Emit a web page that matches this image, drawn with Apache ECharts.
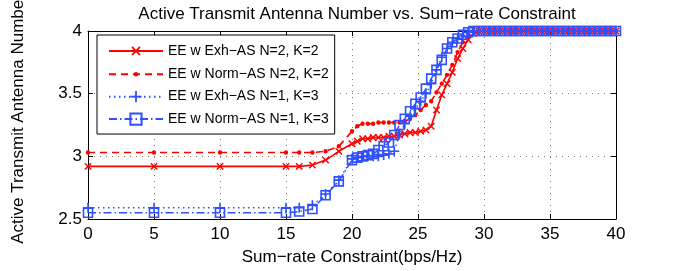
<!DOCTYPE html>
<html>
<head>
<meta charset="utf-8">
<script src="https://cdn.jsdelivr.net/npm/echarts@6/dist/echarts.min.js"></script>
<style>html,body{margin:0;padding:0;background:#fff;}#c{width:681px;height:271px;}</style>
</head>
<body>
<div id="c"></div>
<script>
// x values (bps/Hz)
var xVals = [0, 5, 10, 15, 16, 17, 18, 19,
  20, 20.4, 20.8, 21.2, 21.6, 22, 22.4, 22.8, 23.2, 23.6, 24, 24.4, 24.8, 25.2, 25.6, 26, 26.4, 26.8,
  27.2, 27.6, 28, 28.4, 28.8, 29.2, 29.6, 30, 30.4, 30.8, 31.2, 31.6, 32, 32.4, 32.8, 33.2, 33.6, 34,
  34.4, 34.8, 35.2, 35.6, 36, 36.4, 36.8, 37.2, 37.6, 38, 38.4, 38.8, 39.2, 39.6, 40];

var exhN2K2 = [2.92, 2.92, 2.92, 2.92, 2.92, 2.93, 2.97, 3.04,
  3.10, 3.12, 3.14, 3.14, 3.15, 3.15, 3.15, 3.16, 3.16, 3.17, 3.18, 3.19, 3.19, 3.20, 3.21, 3.24, 3.37, 3.49,
  3.58, 3.67, 3.78, 3.86, 3.93, 3.98, 4, 4, 4, 4, 4, 4, 4, 4, 4, 4, 4, 4,
  4, 4, 4, 4, 4, 4, 4, 4, 4, 4, 4, 4, 4, 4, 4];

var normN2K2 = [3.03, 3.03, 3.03, 3.03, 3.03, 3.03, 3.04, 3.08,
  3.20, 3.24, 3.26, 3.26, 3.26, 3.27, 3.27, 3.27, 3.27, 3.27, 3.28, 3.30, 3.33, 3.37, 3.41, 3.44, 3.51, 3.58,
  3.65, 3.73, 3.83, 3.91, 3.96, 4, 4, 4, 4, 4, 4, 4, 4, 4, 4, 4, 4, 4,
  4, 4, 4, 4, 4, 4, 4, 4, 4, 4, 4, 4, 4, 4, 4];

var exhN1K3 = [2.59, 2.59, 2.59, 2.59, 2.59, 2.61, 2.70, 2.81,
  2.98, 2.99, 3.00, 3.00, 3.00, 3.00, 3.01, 3.02, 3.04, 3.18, 3.26, 3.32, 3.38, 3.44, 3.50, 3.58, 3.69, 3.79,
  3.86, 3.91, 3.94, 3.96, 3.99, 4, 4, 4, 4, 4, 4, 4, 4, 4, 4, 4, 4, 4,
  4, 4, 4, 4, 4, 4, 4, 4, 4, 4, 4, 4, 4, 4, 4];

var normN1K3 = [2.55, 2.55, 2.55, 2.55, 2.56, 2.58, 2.69, 2.80,
  2.97, 2.99, 3.00, 3.01, 3.02, 3.05, 3.08, 3.11, 3.17, 3.25, 3.30, 3.36, 3.42, 3.47, 3.54, 3.62, 3.69, 3.77,
  3.86, 3.91, 3.94, 3.97, 3.99, 4, 4, 4, 4, 4, 4, 4, 4, 4, 4, 4, 4, 4,
  4, 4, 4, 4, 4, 4, 4, 4, 4, 4, 4, 4, 4, 4, 4];

var seriesNames = ['EE w Exh\u2212AS N=2, K=2', 'EE w Norm\u2212AS N=2, K=2',
  'EE w Exh\u2212AS N=1, K=3', 'EE w Norm\u2212AS N=1, K=3'];

function pairs(ys) { return xVals.map(function (x, i) { return [x, ys[i]]; }); }

var RED = '#ff0000', BLUE = '#2f50ff';
var FONT = 'Liberation Sans';
var plusPath = 'path://M4.2,0L5.8,0L5.8,4.2L10,4.2L10,5.8L5.8,5.8L5.8,10L4.2,10L4.2,5.8L0,5.8L0,4.2L4.2,4.2Z';
// small dot inside a 10x10 box (corner specks keep the box size)
var dotPath = 'path://M0,0L0.01,0L0,0.01Z M10,10L9.99,10L10,9.99Z M5,3 A2,2 0 1 1 5,7 A2,2 0 1 1 5,3Z';

var chart = echarts.init(document.getElementById('c'), null, { renderer: 'canvas' });

var axisCommon = {
  axisLine: { show: true, onZero: false, lineStyle: { color: '#000', width: 1 } },
  axisTick: { show: true, inside: true, length: 5, lineStyle: { color: '#000' } },
  axisLabel: { color: '#000', fontSize: 17, fontFamily: FONT }
};

chart.setOption({
  animation: false,
  backgroundColor: '#fff',
  textStyle: { fontFamily: FONT },
  title: {
    text: 'Active Transmit Antenna Number vs. Sum\u2212rate Constraint',
    left: 352, top: 1, textAlign: 'center',
    textStyle: { fontSize: 17, fontWeight: 'normal', color: '#000', fontFamily: FONT }
  },
  grid: { left: 88, right: 65, top: 31, bottom: 49, containLabel: false },
  legend: {
    orient: 'vertical', left: 97, top: 35,
    padding: [8, 6, 8, 11], itemGap: 8.4,
    itemWidth: 54, itemHeight: 14,
    backgroundColor: '#fff', borderColor: '#000', borderWidth: 1,
    textStyle: { fontSize: 14, color: '#000', fontFamily: FONT },
    data: seriesNames
  },
  graphic: [{
    type: 'text', x: 18, y: 119, rotation: Math.PI / 2,
    style: { text: 'Active Transmit Antenna Number', font: '17px "Liberation Sans"', fill: '#000',
      textAlign: 'center', textVerticalAlign: 'middle' }
  }],
  xAxis: [
    Object.assign({}, axisCommon, {
      type: 'value', min: 0, max: 40, interval: 5, position: 'bottom',
      axisLabel: { color: '#000', fontSize: 17, fontFamily: FONT, margin: 7 },
      splitLine: { show: true, lineStyle: { color: '#7a7a7a', type: [1, 5], width: 1 } },
      name: 'Sum\u2212rate Constraint(bps/Hz)', nameLocation: 'middle', nameGap: 30,
      nameTextStyle: { fontSize: 17, color: '#000', fontFamily: FONT }
    }),
    Object.assign({}, axisCommon, {
      type: 'value', min: 0, max: 40, interval: 5, position: 'top',
      axisLabel: { show: false }, splitLine: { show: false }
    })
  ],
  yAxis: [
    Object.assign({}, axisCommon, {
      type: 'value', min: 2.5, max: 4, interval: 0.5, position: 'left',
      axisLabel: { color: '#000', fontSize: 17, fontFamily: FONT, margin: 6 },
      splitLine: { show: true, lineStyle: { color: '#7a7a7a', type: [1, 5], width: 1 } }
    }),
    Object.assign({}, axisCommon, {
      type: 'value', min: 2.5, max: 4, interval: 0.5, position: 'right',
      axisLabel: { show: false }, splitLine: { show: false }
    })
  ],
  series: [
    {
      name: seriesNames[0], type: 'line', data: pairs(exhN2K2),
      symbol: plusPath, symbolRotate: 45, symbolSize: 9, showAllSymbol: true,
      lineStyle: { color: RED, width: 1.6, type: 'solid' },
      itemStyle: { color: RED, borderWidth: 0 }, z: 2
    },
    {
      name: seriesNames[1], type: 'line', data: pairs(normN2K2),
      symbol: dotPath, symbolSize: 11, showAllSymbol: true,
      lineStyle: { color: RED, width: 1.6, type: [7, 5] },
      itemStyle: { color: RED, borderWidth: 0 }, z: 3
    },
    {
      name: seriesNames[2], type: 'line', data: pairs(exhN1K3),
      symbol: plusPath, symbolSize: 10, showAllSymbol: true,
      lineStyle: { color: BLUE, width: 1.5, type: [1.5, 3.5] },
      itemStyle: { color: BLUE, borderWidth: 0 }, z: 4
    },
    {
      name: seriesNames[3], type: 'line', data: pairs(normN1K3),
      symbol: 'rect', symbolSize: 9, showAllSymbol: true,
      lineStyle: { color: BLUE, width: 1.5, type: [8, 3, 1.5, 3] },
      itemStyle: { color: 'rgba(0,0,0,0)', borderColor: BLUE, borderWidth: 1.6 }, z: 5
    }
  ]
});
</script>
</body>
</html>
